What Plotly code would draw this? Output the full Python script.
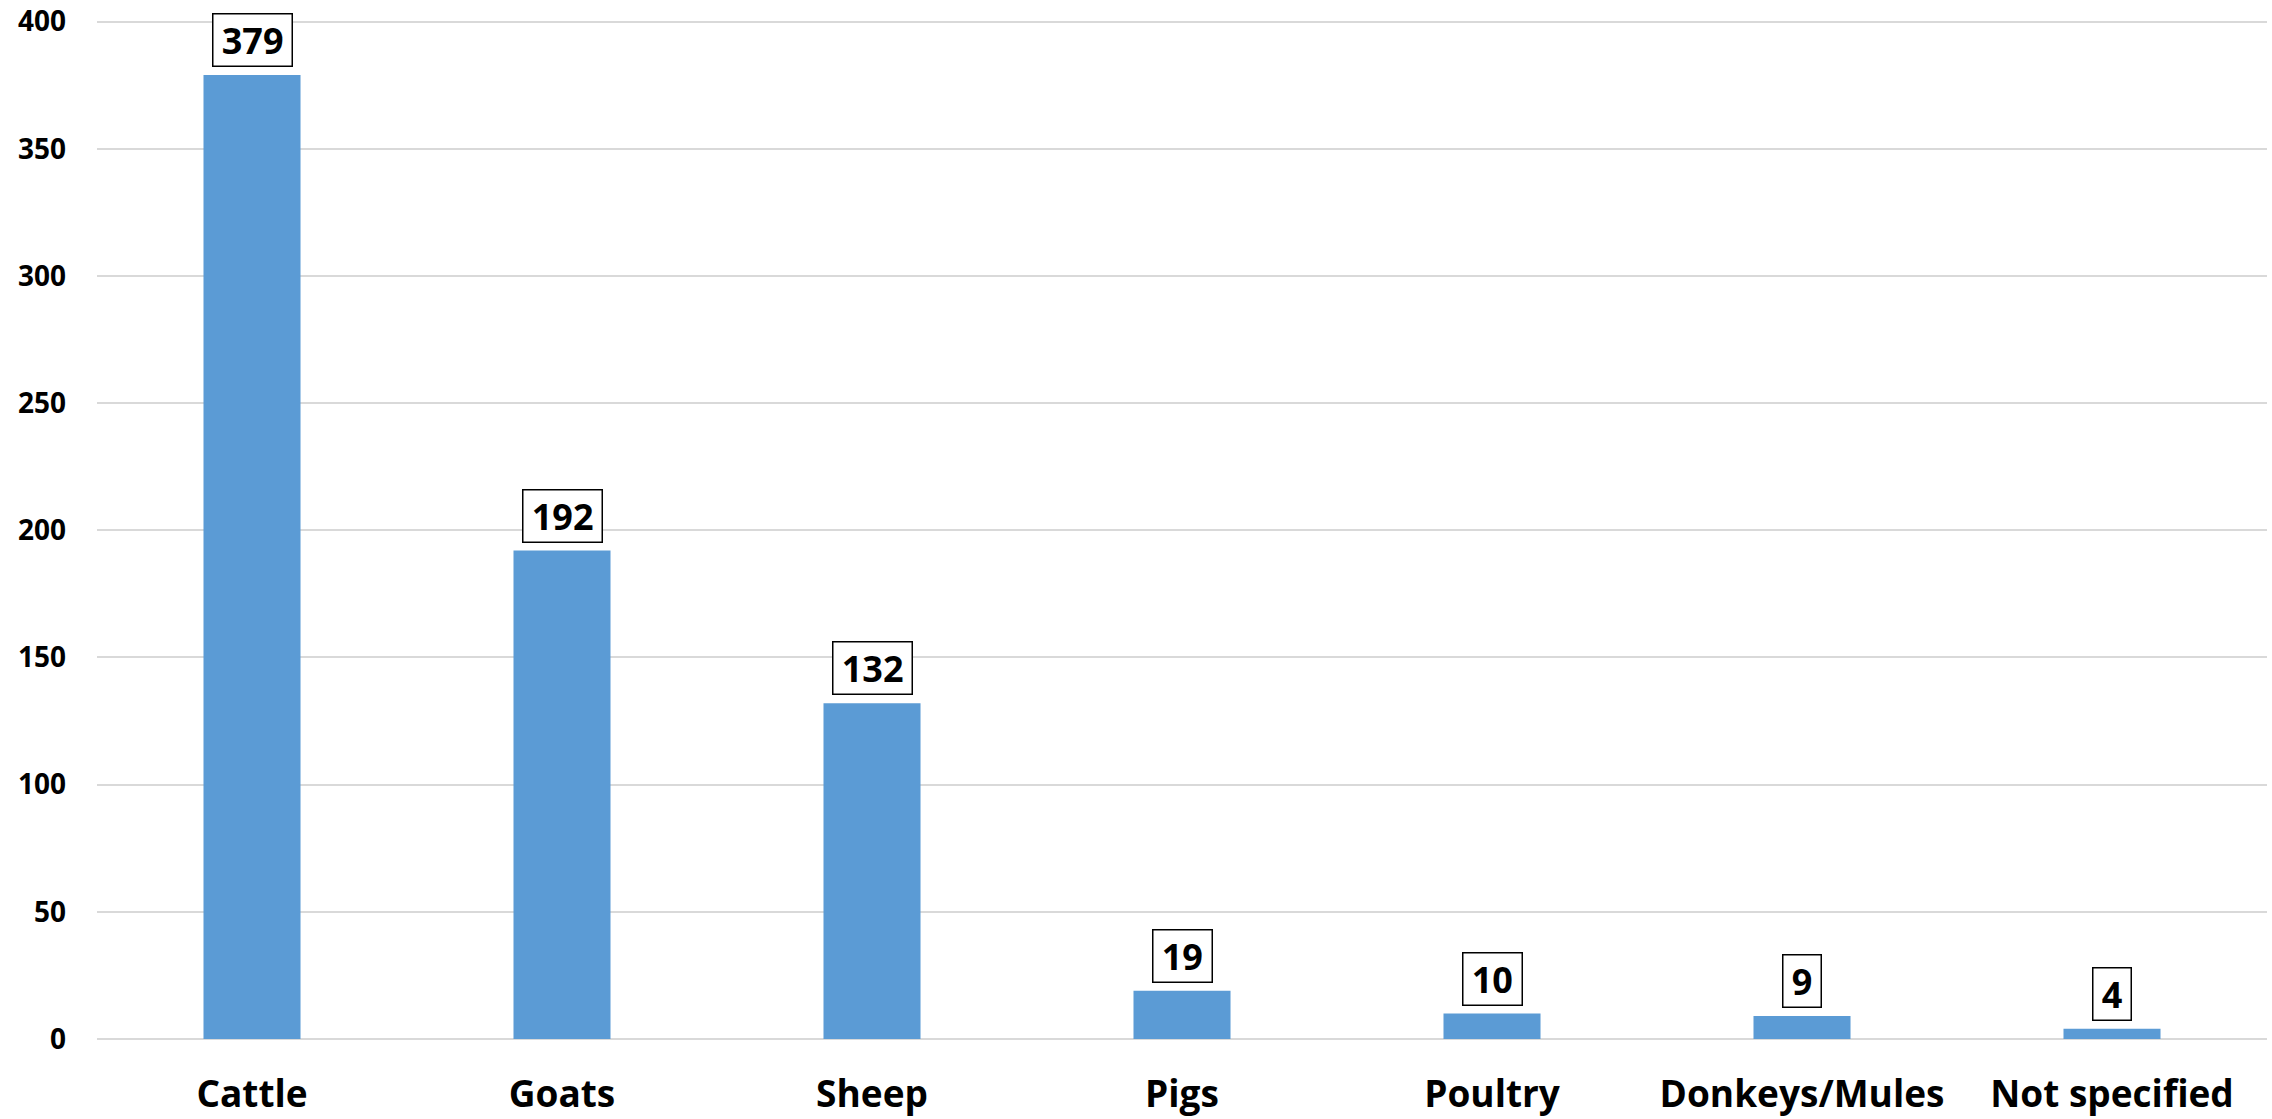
import plotly.graph_objects as go

categories = ["Cattle", "Goats", "Sheep", "Pigs", "Poultry", "Donkeys/Mules", "Not specified"]
values = [379, 192, 132, 19, 10, 9, 4]
y_ticks = [0, 50, 100, 150, 200, 250, 300, 350, 400]

FONT = "Open Sans"
PAD = "<span style='font-size:28px'> </span>"

fig = go.Figure()
fig.add_trace(go.Bar(
    x=categories, y=values,
    marker=dict(color="#5B9BD5", line=dict(width=0)),
    hoverinfo="x+y",
))

for c, v in zip(categories, values):
    fig.add_annotation(
        x=c, y=v, text=f"{PAD}<b>{v}</b>{PAD}", showarrow=False,
        yanchor="bottom", yshift=8,
        font=dict(family=FONT, size=36, color="black"),
        bordercolor="black", borderwidth=1.5, borderpad=1,
        bgcolor="white",
    )

fig.update_layout(
    width=2272, height=1119,
    margin=dict(l=97, r=5, t=20, b=80, autoexpand=False),
    plot_bgcolor="white", paper_bgcolor="white",
    bargap=0.687,
    showlegend=False,
    font=dict(family=FONT, color="black"),
)
fig.update_xaxes(
    automargin=False,
    showgrid=False, showline=False, ticks="",
    tickfont=dict(family=FONT, size=37, color="black", weight="bold"),
    ticklabelstandoff=30,
    ticklabeloverflow="allow",
)
fig.update_yaxes(
    automargin=False,
    range=[0, 400.6], tickvals=y_ticks,
    showgrid=True, gridcolor="#D9D9D9", gridwidth=1.5,
    zeroline=True, zerolinecolor="#D9D9D9", zerolinewidth=2,
    showline=False, ticks="",
    tickfont=dict(family=FONT, size=28, color="black", weight="bold"),
    ticklabelstandoff=30,
    ticklabeloverflow="allow",
)

fig.write_html(
    "out.html",
    config={"displayModeBar": False},
    post_script="document.body.style.margin='0';document.body.style.overflow='hidden';",
)
